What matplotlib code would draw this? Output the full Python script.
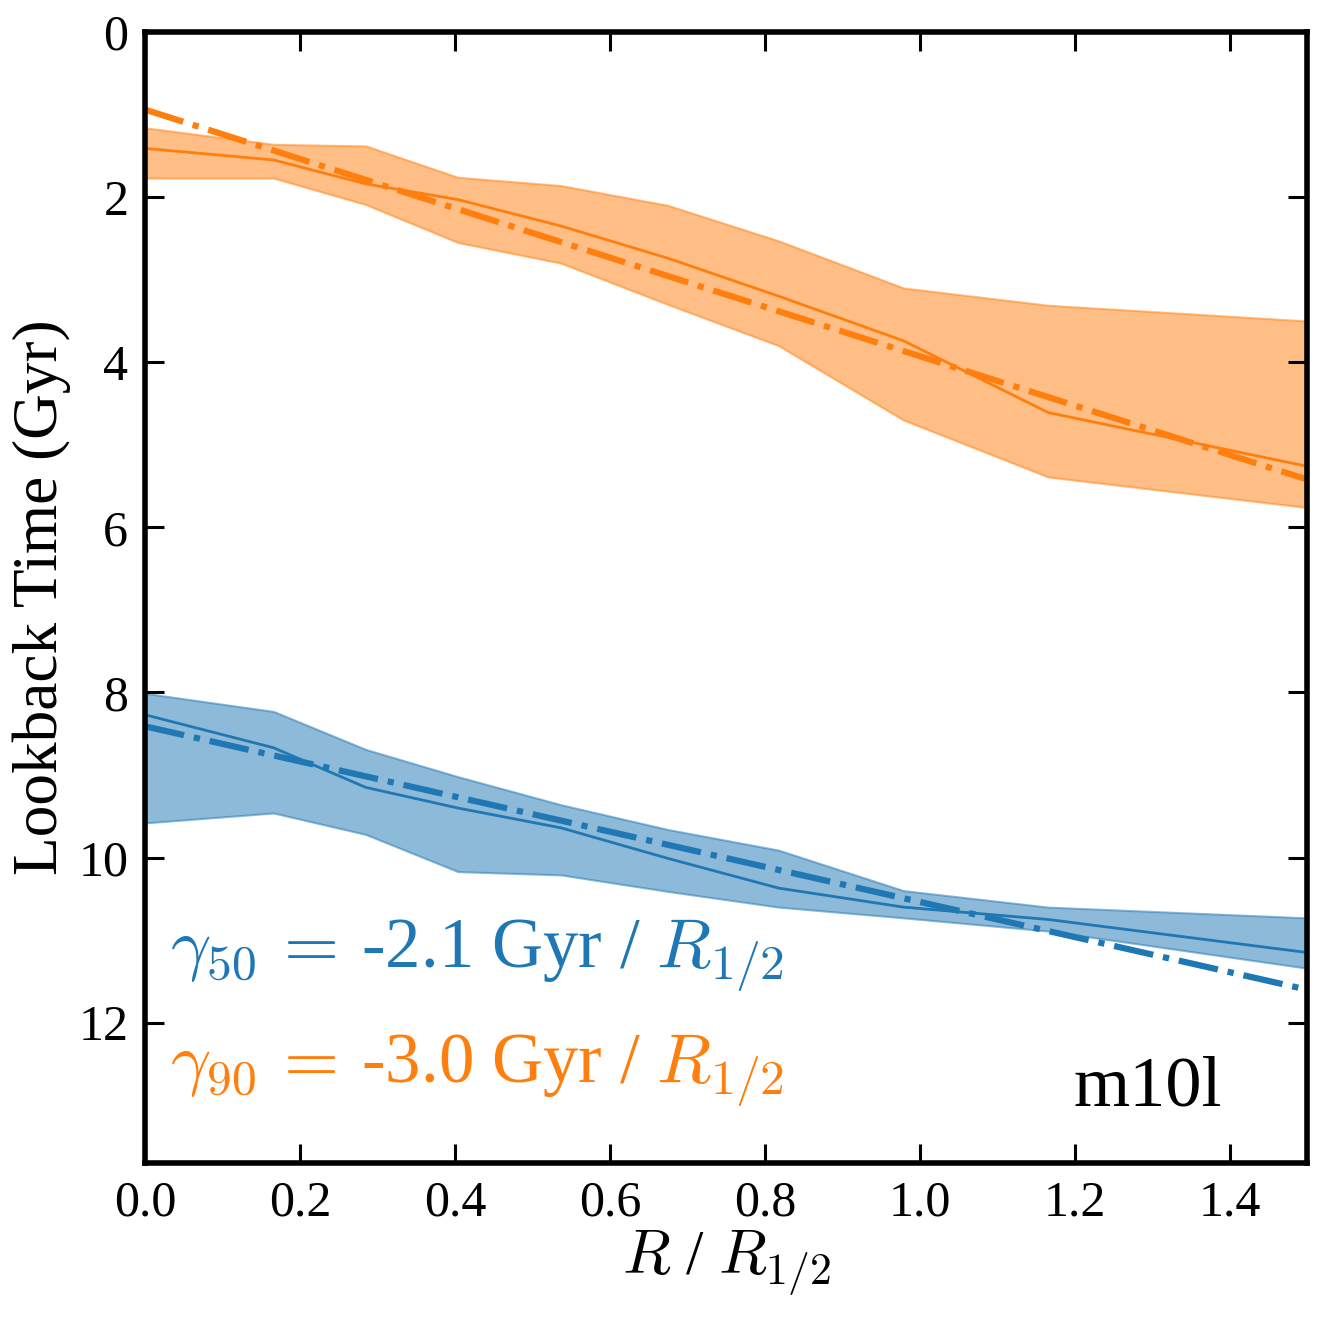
import numpy as np
import matplotlib
matplotlib.use("Agg")
import matplotlib.pyplot as plt

plt.rcParams['font.family'] = ['Liberation Serif', 'DejaVu Serif']
plt.rcParams['mathtext.fontset'] = 'cm'

# radial bins (R / R_1/2)
r_bins = [0.0, 0.166, 0.285, 0.404, 0.537, 0.675, 0.818, 0.979, 1.166, 1.5]

# 90% formation time (orange): median and band
t90_med = [1.41, 1.55, 1.84, 2.03, 2.35, 2.74, 3.20, 3.74, 4.61, 5.26]
t90_lo = [1.16, 1.36, 1.38, 1.76, 1.86, 2.10, 2.53, 3.10, 3.31, 3.50]
t90_hi = [1.77, 1.77, 2.09, 2.55, 2.80, 3.30, 3.80, 4.70, 5.39, 5.76]

# 50% formation time (blue): median and band
t50_med = [8.27, 8.67, 9.15, 9.40, 9.64, 10.01, 10.37, 10.60, 10.75, 11.15]
t50_lo = [8.01, 8.23, 8.69, 9.02, 9.36, 9.66, 9.91, 10.40, 10.60, 10.73]
t50_hi = [9.58, 9.46, 9.72, 10.17, 10.21, 10.41, 10.60, 10.73, 10.89, 11.34]

# linear fits (end points)
fit_x = [0.0, 1.5]
fit90_y = [0.94, 5.42]
fit50_y = [8.41, 11.60]

gamma50 = -2.1
gamma90 = -3.0
label = "m10l"

blue = '#1f77b4'
orange = '#ff7f0e'

fig = plt.figure(figsize=(13.22, 13.17), dpi=100)
ax = fig.add_axes([0.1097, 0.1169, 0.879, 0.8588])

ax.fill_between(r_bins, t50_lo, t50_hi, color=blue, alpha=0.5, lw=1.5)
ax.plot(r_bins, t50_med, color=blue, lw=2)
ax.plot(fit_x, fit50_y, color=blue, lw=4.5, ls='-.')

ax.fill_between(r_bins, t90_lo, t90_hi, color=orange, alpha=0.5, lw=1.5)
ax.plot(r_bins, t90_med, color=orange, lw=2)
ax.plot(fit_x, fit90_y, color=orange, lw=4.5, ls='-.')

ax.set_xlim(0, 1.5)
ax.set_ylim(13.7, 0)
ax.set_xticks([0.0, 0.2, 0.4, 0.6, 0.8, 1.0, 1.2, 1.4])
ax.set_yticks([0, 2, 4, 6, 8, 10, 12])

for s in ax.spines.values():
    s.set_linewidth(4)
ax.tick_params(direction='in', top=True, right=True, length=14, width=2.2,
               labelsize=36, pad=12)

ax.set_xlabel(r"$R$ / $R_{1/2}$", fontsize=45, labelpad=2)
ax.set_ylabel("Lookback Time (Gyr)", fontsize=45.5, labelpad=5)

ax.text(0.032, 11.33, r"$\gamma_{50}\,=\,$-%.1f Gyr / $R_{1/2}$" % abs(gamma50),
        color=blue, fontsize=51, va='baseline', ha='left')
ax.text(0.032, 12.72, r"$\gamma_{90}\,=\,$-%.1f Gyr / $R_{1/2}$" % abs(gamma90),
        color=orange, fontsize=51, va='baseline', ha='left')
ax.text(1.39, 13.0, label, fontsize=52, va='baseline', ha='right')

fig.savefig("out.png", dpi=100)
